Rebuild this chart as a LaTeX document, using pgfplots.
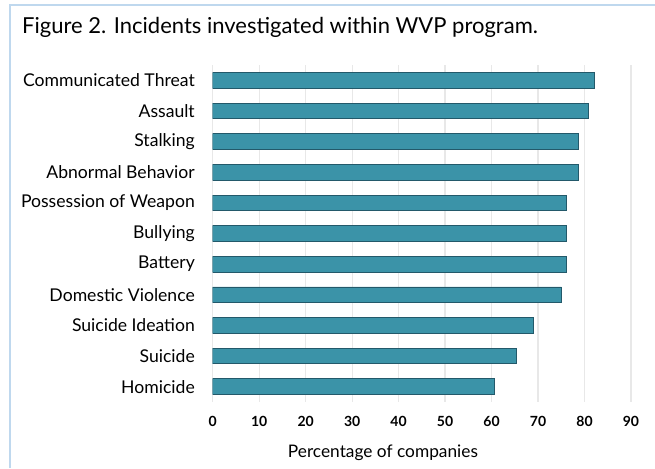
\documentclass[border=0pt]{standalone}
\usepackage{fontspec}
\setmainfont{Lato}
\usepackage{pgfplots}
\pgfplotsset{compat=1.18}
\definecolor{barfill}{HTML}{3B93A8}
\definecolor{baredge}{HTML}{23596A}
\definecolor{gridc}{HTML}{E8E8E8}
\definecolor{framec}{HTML}{BFD8EE}
\begin{document}
\begin{tikzpicture}[x=1pt,y=1pt]
\useasboundingbox (0,0) rectangle (655,468);
\fill[white] (0,0) rectangle (655,468);
\draw[framec, line width=1.5pt] (10,0) -- (10,463) -- (655,463);
\node[anchor=base west, inner sep=0, font=\fontsize{22}{24}\selectfont, text=black] at (22,434.7) {Figure 2. Incidents investigated within WVP program.};
\begin{axis}[
  at={(212.7pt,66pt)}, anchor=south west,
  scale only axis, width=418.3pt, height=337pt,
  xmin=0, xmax=90, ymin=-0.5, ymax=10.5,
  xbar, bar width=15.6pt,
  axis line style={draw=none},
  major tick length=0pt,
  xtick={0,10,...,90},
  ytick={0,...,10},
  yticklabels={Homicide, Suicide, Suicide Ideation, Domestic Violence, Battery, Bullying, Possession of Weapon, Abnormal Behavior, Stalking, Assault, Communicated Threat},
  yticklabel style={font=\fontsize{17.6}{19}\selectfont, anchor=east, inner sep=0pt, xshift=-17.7pt},
  xticklabel style={font=\fontsize{14}{16}\selectfont\bfseries, anchor=center, inner sep=0pt, yshift=-19.7pt},
  /pgf/number format/assume math mode=true,
  xmajorgrids, grid style={gridc, line width=1.2pt},
  xlabel={Percentage of companies},
  xlabel style={font=\fontsize{17.3}{19}\selectfont, at={(rel axis cs:0.407,0)}, anchor=center, yshift=-51pt},
]
\addplot[fill=barfill, draw=baredge, line width=0.8pt] coordinates {
(60.6,0) (65.4,1) (69.0,2) (75.0,3) (76.2,4) (76.2,5) (76.2,6) (78.6,7) (78.6,8) (80.9,9) (82.1,10)
};
\end{axis}
\end{tikzpicture}
\end{document}
